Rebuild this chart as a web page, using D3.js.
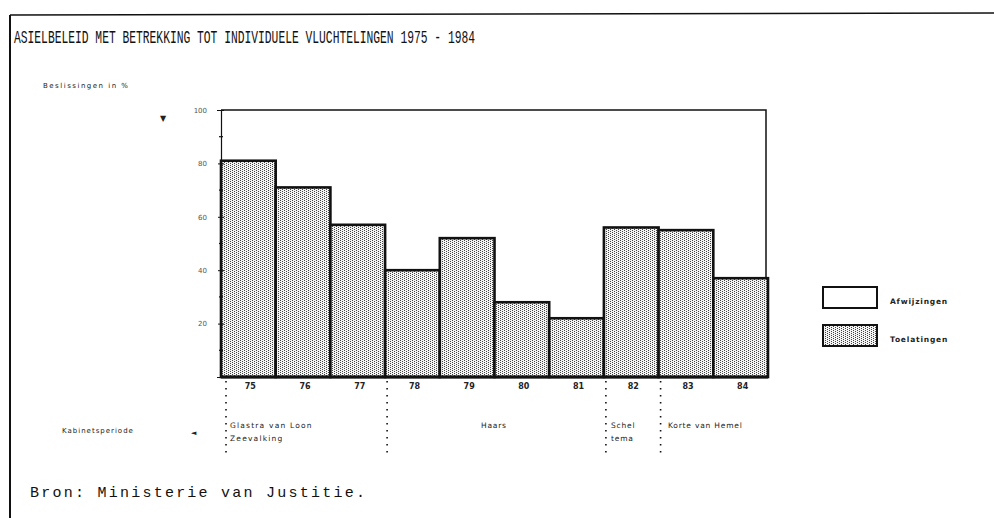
<!DOCTYPE html>
<html lang="nl">
<head>
<meta charset="UTF-8" />
<title>Asielbeleid 1975 - 1984</title>
<style>
  body { margin: 0; background: #fff; }
  svg { display: block; }
  .small { font-family: "DejaVu Sans", sans-serif; fill: #222; }
</style>
</head>
<body>
<div id="chart"></div>
<script src="https://d3js.org/d3.v7.min.js"></script>
<script>
  // jaren en percentage toelatingen (rest = afwijzingen)
  const years = ['75', '76', '77', '78', '79', '80', '81', '82', '83', '84'];
  const toelatingen = [81, 71, 57, 40, 52, 28, 22, 56, 55, 37];
  const yTicks = [20, 40, 60, 80, 100];
  const minorTicks = [10, 30, 50, 70, 90];

  // kabinetsperioden: eerste jaar en tekstregels
  const periodStart = ['75', '78', '82', '83'];
  const periodLabels = [['Glastra van Loon', 'Zeevalking'], ['Haars'], ['Schel', 'tema'], ['Korte  van Hemel']];

  const legendLabels = ['Afwijzingen', 'Toelatingen'];

  const width = 994, height = 518;
  const svg = d3.select('#chart').append('svg')
    .attr('width', width).attr('height', height);

  // stippelpatroon zoals in het origineel
  const defs = svg.append('defs');
  const pat = defs.append('pattern')
    .attr('id', 'dots').attr('patternUnits', 'userSpaceOnUse')
    .attr('width', 4).attr('height', 2);
  pat.append('rect').attr('width', 4).attr('height', 2).attr('fill', '#f4f4f4');
  pat.append('rect').attr('x', 0).attr('y', 0).attr('width', 1).attr('height', 1).attr('fill', '#444');
  pat.append('rect').attr('x', 2).attr('y', 1).attr('width', 1).attr('height', 1).attr('fill', '#444');

  // kader van de pagina
  svg.append('line').attr('x1', 10).attr('x2', 994).attr('y1', 15).attr('y2', 13)
    .attr('stroke', '#111').attr('stroke-width', 1.5);
  svg.append('line').attr('x1', 10).attr('x2', 10).attr('y1', 15).attr('y2', 518)
    .attr('stroke', '#111').attr('stroke-width', 2);

  svg.append('text')
    .attr('x', 14).attr('y', 43)
    .attr('textLength', 461).attr('lengthAdjust', 'spacingAndGlyphs')
    .style('font-family', '"Liberation Mono", monospace')
    .style('font-size', '18px').attr('fill', '#111')
    .text('ASIELBELEID MET BETREKKING TOT INDIVIDUELE VLUCHTELINGEN 1975 - 1984');

  const x = d3.scaleBand().domain(years).range([221, 768]).padding(0);
  const y = d3.scaleLinear().domain([0, 100]).range([377, 110]);

  // kader van de grafiek
  svg.append('path')
    .attr('d', `M${x.range()[0]},${y(100)}H766V${y(0)}`)
    .attr('fill', 'none').attr('stroke', '#111').attr('stroke-width', 1.5);

  // staven
  svg.selectAll('rect.bar')
    .data(years)
    .enter()
    .append('rect')
    .attr('class', 'bar')
    .attr('x', d => x(d))
    .attr('y', (d, i) => y(toelatingen[i]))
    .attr('width', x.bandwidth())
    .attr('height', (d, i) => y(0) - y(toelatingen[i]))
    .attr('fill', 'url(#dots)')
    .attr('stroke', '#111')
    .attr('stroke-width', 2.6);

  // basislijn
  svg.append('line')
    .attr('x1', x.range()[0]).attr('x2', x.range()[1])
    .attr('y1', y(0)).attr('y2', y(0))
    .attr('stroke', '#111').attr('stroke-width', 3);

  // y-as
  const yAxis = d3.axisLeft(y).tickValues(yTicks).tickSize(4).tickPadding(10);
  const gy = svg.append('g').attr('transform', `translate(${x.range()[0]},0)`).call(yAxis);
  gy.select('.domain').attr('stroke', '#111').attr('stroke-width', 1.2);
  gy.selectAll('.tick line').attr('stroke', '#111').attr('x2', 3).attr('x1', -3);
  gy.selectAll('.tick text')
    .style('font-family', '"DejaVu Sans", sans-serif').style('font-size', '7px')
    .attr('fill', '#555');
  gy.selectAll('line.minor')
    .data(minorTicks).enter().append('line')
    .attr('class', 'minor')
    .attr('x1', -2).attr('x2', 2)
    .attr('y1', d => y(d)).attr('y2', d => y(d))
    .attr('stroke', '#111').attr('stroke-width', 1.2);

  svg.append('text').attr('class', 'small')
    .attr('x', 43).attr('y', 88)
    .style('font-size', '7px').style('letter-spacing', '1.5px').attr('fill', '#555')
    .text('Beslissingen  in %');
  svg.append('text').attr('class', 'small')
    .attr('x', 160).attr('y', 121).style('font-size', '8px')
    .text('▼');

  // x-as: jaartallen
  svg.selectAll('text.year')
    .data(years).enter().append('text')
    .attr('class', 'small year')
    .attr('x', d => x(d) + x.bandwidth() / 2 + 2)
    .attr('y', 389)
    .attr('text-anchor', 'middle')
    .style('font-size', '8px').style('font-weight', 'bold')
    .text(d => d);

  // kabinetsperioden
  svg.selectAll('line.sep')
    .data(periodStart).enter().append('line')
    .attr('class', 'sep')
    .attr('x1', d => x(d) + (d === '75' ? 5 : 2)).attr('x2', d => x(d) + (d === '75' ? 5 : 2))
    .attr('y1', 381).attr('y2', 458)
    .attr('stroke', '#111').attr('stroke-width', 1.6)
    .attr('stroke-dasharray', '1.5,5.5');

  const periodX = [230, 481, 611, 668];
  periodLabels.forEach((lines, i) => {
    lines.forEach((t, j) => {
      svg.append('text').attr('class', 'small')
        .attr('x', periodX[i]).attr('y', 428 + j * 13)
        .style('font-size', '7.5px').style('letter-spacing', i === 0 ? '1.2px' : '0.8px')
        .text(t);
    });
  });

  svg.append('text').attr('class', 'small')
    .attr('x', 62).attr('y', 433)
    .style('font-size', '7px').style('letter-spacing', '1px').attr('fill', '#333')
    .text('Kabinetsperiode');
  svg.append('text').attr('class', 'small')
    .attr('x', 191).attr('y', 435).style('font-size', '7px')
    .text('◄');

  // legenda
  const legend = svg.append('g').attr('transform', 'translate(823,287)');
  legend.selectAll('rect')
    .data(legendLabels).enter().append('rect')
    .attr('x', 0).attr('y', (d, i) => i * 38)
    .attr('width', 54).attr('height', 21)
    .attr('fill', (d, i) => i === 0 ? '#fff' : 'url(#dots)')
    .attr('stroke', '#111').attr('stroke-width', 2);
  legend.selectAll('text')
    .data(legendLabels).enter().append('text')
    .attr('class', 'small')
    .attr('x', 67).attr('y', (d, i) => 17 + i * 38)
    .style('font-size', '7.5px').style('font-weight', 'bold').style('letter-spacing', '0.8px')
    .text(d => d);

  svg.append('text')
    .attr('x', 30).attr('y', 497)
    .attr('textLength', 335).attr('lengthAdjust', 'spacing')
    .style('font-family', '"Liberation Mono", monospace')
    .style('font-size', '15px').attr('fill', '#111')
    .text('Bron: Ministerie van Justitie.');
</script>
</body>
</html>
